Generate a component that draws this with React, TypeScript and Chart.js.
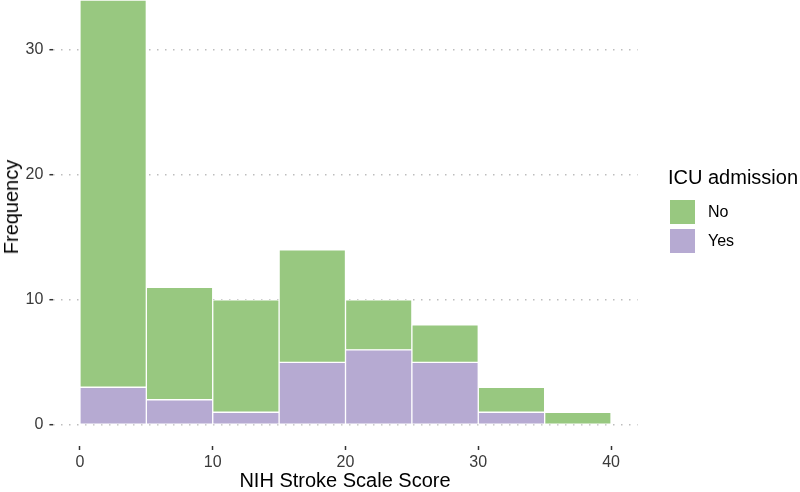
import React, { useEffect, useRef } from "react";
import { Chart, registerables } from "chart.js";

Chart.register(...registerables);

const binCenters = [2.5, 7.5, 12.5, 17.5, 22.5, 27.5, 32.5, 37.5];
const yesCounts = [3, 2, 1, 5, 6, 5, 1, 0];
const noCounts = [31, 9, 9, 9, 4, 3, 2, 1];
const xTickValues = [0, 10, 20, 30, 40];
const yTickValues = [0, 10, 20, 30];
const seriesNames = ["No", "Yes"];
const legendTitle = "ICU admission";
const xTitle = "NIH Stroke Scale Score";
const yTitle = "Frequency";

const GREEN = "#98c880";
const PURPLE = "#b6aad2";
const FONT = "'Liberation Sans', Arial, Helvetica, sans-serif";

export default function App() {
  const ref = useRef<HTMLCanvasElement | null>(null);

  useEffect(() => {
    if (!ref.current) return;
    const chart = new Chart(ref.current, {
      type: "bar",
      data: {
        datasets: [
          {
            label: seriesNames[1],
            data: binCenters.map((x, i) => ({ x, y: yesCounts[i] })),
            backgroundColor: PURPLE,
            borderColor: "#ffffff",
            borderWidth: 1,
            borderSkipped: false,
            barPercentage: 1,
            categoryPercentage: 1,
          },
          {
            label: seriesNames[0],
            data: binCenters.map((x, i) => ({ x, y: noCounts[i] })),
            backgroundColor: GREEN,
            borderColor: "#ffffff",
            borderWidth: 1,
            borderSkipped: false,
            barPercentage: 1,
            categoryPercentage: 1,
          },
        ],
      },
      options: {
        responsive: false,
        animation: false,
        devicePixelRatio: 1,
        layout: { padding: { left: 0, right: 162.4, top: 0, bottom: 0 } },
        plugins: { legend: { display: false }, tooltip: { enabled: false } },
        scales: {
          x: {
            type: "linear",
            stacked: true,
            offset: false,
            min: -2,
            max: 42,
            afterBuildTicks: (s: any) => {
              s.ticks = xTickValues.map((v) => ({ value: v }));
            },
            afterFit: (s: any) => {
              s.height = 46;
              s.paddingLeft = 0;
              s.paddingRight = 0;
            },
            grid: {
              offset: false,
              drawOnChartArea: false,
              drawTicks: true,
              tickLength: 4,
              tickColor: "#333333",
              tickWidth: 1.5,
            },
            border: { display: false },
            ticks: {
              padding: 3,
              color: "#3a3a3a",
              font: { family: FONT, size: 16 },
              maxRotation: 0,
              autoSkip: false,
            },
          },
          y: {
            type: "linear",
            stacked: true,
            min: -1.7,
            max: 34,
            afterBuildTicks: (s: any) => {
              s.ticks = yTickValues.map((v) => ({ value: v }));
            },
            afterFit: (s: any) => {
              s.width = 53.4;
              s.paddingTop = 0;
              s.paddingBottom = 0;
            },
            grid: {
              color: "#bdbdbd",
              lineWidth: 1.4,
              drawTicks: true,
              tickLength: 4,
              tickColor: "#333333",
              tickWidth: 1.5,
            },
            border: { display: false, dash: [1.5, 6.5] },
            ticks: {
              padding: 6,
              color: "#3a3a3a",
              font: { family: FONT, size: 16 },
            },
          },
        },
      },
    });
    return () => chart.destroy();
  }, []);

  const text: React.CSSProperties = {
    position: "absolute",
    fontFamily: FONT,
    color: "#000",
    whiteSpace: "nowrap",
    lineHeight: "1",
  };

  return (
    <div style={{ position: "absolute", left: 0, top: 0, width: 800, height: 492, background: "#fff" }}>
      <canvas ref={ref} width={800} height={492} style={{ display: "block", width: 800, height: 492 }} />
      <div
        style={{
          ...text,
          fontSize: 20,
          left: 11,
          top: 207,
          transform: "translate(-50%, -50%) rotate(-90deg)",
        }}
      >
        {yTitle}
      </div>
      <div style={{ ...text, fontSize: 20, left: 345, top: 480, transform: "translate(-50%, -50%)" }}>
        {xTitle}
      </div>
      <div style={{ ...text, fontSize: 20, left: 668, top: 177, transform: "translateY(-50%)" }}>
        {legendTitle}
      </div>
      <div style={{ position: "absolute", left: 670, top: 200, width: 25, height: 24, background: GREEN }} />
      <div style={{ position: "absolute", left: 670, top: 229, width: 25, height: 24, background: PURPLE }} />
      <div style={{ ...text, fontSize: 16, left: 708, top: 212, transform: "translateY(-50%)" }}>
        {seriesNames[0]}
      </div>
      <div style={{ ...text, fontSize: 16, left: 708, top: 241, transform: "translateY(-50%)" }}>
        {seriesNames[1]}
      </div>
    </div>
  );
}
